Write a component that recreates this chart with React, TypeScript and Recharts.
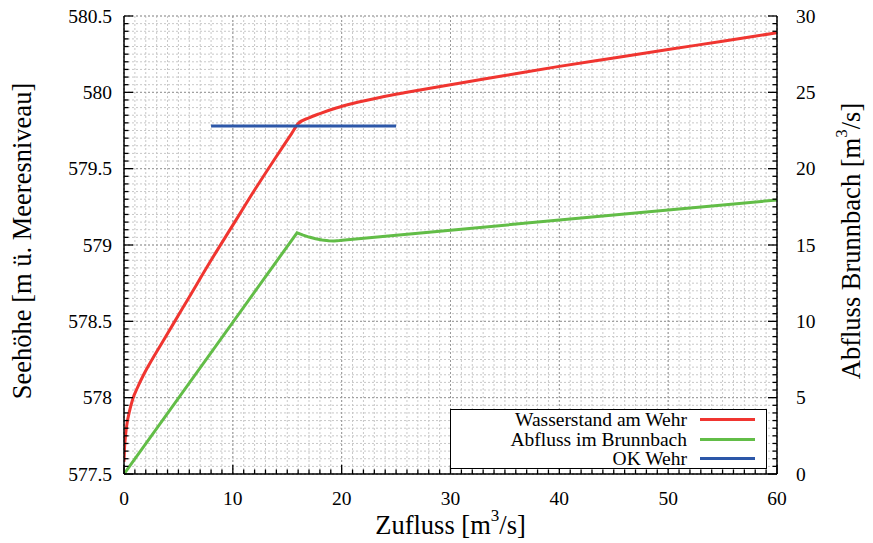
import React from 'react';
import { LineChart, Line, XAxis, YAxis, CartesianGrid, Legend } from 'recharts';

const FONT = '"Liberation Serif", "Times New Roman", Times, Tinos, "Nimbus Roman", "Nimbus Roman No9 L", "DejaVu Serif", "Noto Serif", FreeSerif, serif';

// Wasserstand am Wehr (left axis)
const zuflussRed = [0, 0.05, 0.15, 0.3, 0.5, 0.8, 1.2, 1.8, 2.5, 3.5, 4.5, 6, 8, 10, 12, 14, 15.4, 16.0, 17, 18, 19.5, 21.1, 23.5, 26, 30, 35, 40, 45, 50, 55, 60];
const wasserstand = [577.58, 577.67, 577.76, 577.84, 577.91, 577.99, 578.06, 578.15, 578.24, 578.36, 578.48, 578.66, 578.9, 579.13, 579.36, 579.58, 579.73, 579.795, 579.833, 579.861, 579.897, 579.928, 579.966, 580.0, 580.05, 580.11, 580.17, 580.225, 580.28, 580.335, 580.39];

// Abfluss im Brunnbach (right axis)
const zuflussGreen = [0, 15.9, 16.4, 17, 17.6, 18.2, 18.8, 19.3, 19.8, 30, 40, 50, 60];
const abfluss = [0, 15.8, 15.66, 15.52, 15.41, 15.33, 15.28, 15.265, 15.29, 15.97, 16.63, 17.29, 17.95];

// OK Wehr (left axis)
const zuflussOK = [8, 25];
const okWehr = [579.78, 579.78];

const seriesNames = ['Wasserstand am Wehr', 'Abfluss im Brunnbach', 'OK Wehr'];
const seriesColors = ['#f03530', '#62bd47', '#2c57a8'];

const xMajorValues = [0, 10, 20, 30, 40, 50, 60];
const xMajorLabels = ['0', '10', '20', '30', '40', '50', '60'];
const yLeftMajorValues = [577.5, 578, 578.5, 579, 579.5, 580, 580.5];
const yLeftMajorLabels = ['577.5', '578', '578.5', '579', '579.5', '580', '580.5'];
const yRightMajorValues = [0, 5, 10, 15, 20, 25, 30];
const yRightMajorLabels = ['0', '5', '10', '15', '20', '25', '30'];

const round = (v: number, d: number) => Math.round(v * 10 ** d) / 10 ** d;
const xMinorTicks = Array.from({ length: 61 }, (_, i) => i);
const yLeftMinorTicks = Array.from({ length: 61 }, (_, i) => round(577.5 + i * 0.05, 2));
const yRightMinorTicks = Array.from({ length: 61 }, (_, i) => round(i * 0.5, 1));

const redData = zuflussRed.map((x, i) => ({ x, y: wasserstand[i] }));
const greenData = zuflussGreen.map((x, i) => ({ x, y: abfluss[i] }));
const blueData = zuflussOK.map((x, i) => ({ x, y: okWehr[i] }));

const findIdx = (arr: number[], v: number) => arr.findIndex((a) => Math.abs(a - v) < 1e-6);

const TICK_FS = 19.5;
const TITLE_FS = 26.5;

const BottomTick = (props: any) => {
  const { x, y, payload } = props;
  const idx = findIdx(xMajorValues, payload.value);
  const major = idx >= 0;
  return (
    <g>
      <line x1={x} y1={y} x2={x} y2={y - (major ? 9 : 4.5)} stroke="#000" strokeWidth={1.3} />
      {major && (
        <text x={x} y={y + 24} textAnchor="middle" dominantBaseline="central" fontFamily={FONT} fontSize={TICK_FS} fill="#000">
          {xMajorLabels[idx]}
        </text>
      )}
    </g>
  );
};

const TopTick = (props: any) => {
  const { x, y, payload } = props;
  const major = findIdx(xMajorValues, payload.value) >= 0;
  return <line x1={x} y1={y} x2={x} y2={y + (major ? 9 : 4.5)} stroke="#000" strokeWidth={1.3} />;
};

const LeftTick = (props: any) => {
  const { x, y, payload } = props;
  const idx = findIdx(yLeftMajorValues, payload.value);
  const major = idx >= 0;
  return (
    <g>
      <line x1={x} y1={y} x2={x + (major ? 9 : 4.5)} y2={y} stroke="#000" strokeWidth={1.3} />
      {major && (
        <text x={x - 12} y={y} textAnchor="end" dominantBaseline="central" fontFamily={FONT} fontSize={TICK_FS} fill="#000">
          {yLeftMajorLabels[idx]}
        </text>
      )}
    </g>
  );
};

const RightTick = (props: any) => {
  const { x, y, payload } = props;
  const idx = findIdx(yRightMajorValues, payload.value);
  const major = idx >= 0;
  return (
    <g>
      <line x1={x} y1={y} x2={x - (major ? 9 : 4.5)} y2={y} stroke="#000" strokeWidth={1.3} />
      {major && (
        <text x={x + 19} y={y} textAnchor="start" dominantBaseline="central" fontFamily={FONT} fontSize={TICK_FS} fill="#000">
          {yRightMajorLabels[idx]}
        </text>
      )}
    </g>
  );
};

const XTitle = (props: any) => {
  const vb = props.viewBox;
  const cx = vb.x + vb.width / 2;
  const cy = vb.y + 51;
  return (
    <text x={cx} y={cy} textAnchor="middle" dominantBaseline="central" fontFamily={FONT} fontSize={TITLE_FS} fill="#000">
      Zufluss [m<tspan dy={-10} fontSize={17}>3</tspan><tspan dy={10}>/s]</tspan>
    </text>
  );
};

const LeftTitle = (props: any) => {
  const vb = props.viewBox;
  const cx = 22;
  const cy = vb.y + vb.height / 2 - 4;
  return (
    <text x={cx} y={cy} transform={`rotate(-90 ${cx} ${cy})`} textAnchor="middle" dominantBaseline="central" fontFamily={FONT} fontSize={TITLE_FS} fill="#000">
      Seehöhe [m ü. Meeresniveau]
    </text>
  );
};

const RightTitle = (props: any) => {
  const vb = props.viewBox;
  const cx = 851;
  const cy = vb.y + vb.height / 2 - 4;
  return (
    <text x={cx} y={cy} transform={`rotate(-90 ${cx} ${cy})`} textAnchor="middle" dominantBaseline="central" fontFamily={FONT} fontSize={TITLE_FS} fill="#000">
      Abfluss Brunnbach [m<tspan dy={-10} fontSize={17}>3</tspan><tspan dy={10}>/s]</tspan>
    </text>
  );
};

const LegendBox = (props: any) => {
  const payload: any[] = props.payload || [];
  return (
    <div
      style={{
        width: 317,
        height: 60,
        border: '1.5px solid #000',
        background: '#fff',
        boxSizing: 'border-box',
        paddingTop: 0,
        fontFamily: FONT,
        fontSize: TICK_FS,
        color: '#000',
      }}
    >
      {seriesNames.map((name, i) => {
        const p = payload.find((e) => e.value === name);
        const color = p ? p.color : seriesColors[i];
        return (
          <div key={name} style={{ display: 'flex', alignItems: 'center', justifyContent: 'flex-end', height: 19.5, lineHeight: '19.5px' }}>
            <span>{name}</span>
            <span style={{ display: 'inline-block', width: 55, height: 3, background: color, marginLeft: 13, marginRight: 11 }} />
          </div>
        );
      })}
    </div>
  );
};

export default function App() {
  return (
    <div style={{ position: 'absolute', left: 0, top: 0, width: 873, height: 543, background: '#fff' }}>
      <LineChart width={873} height={543} margin={{ top: 16, right: 0, bottom: 0, left: 0 }}>
        <CartesianGrid
          xAxisId={0}
          yAxisId="left"
          horizontalValues={yLeftMinorTicks}
          verticalValues={xMinorTicks}
          stroke="#c8c8c8"
          strokeDasharray="2 2"
          strokeWidth={1}
        />
        <CartesianGrid
          xAxisId={0}
          yAxisId="left"
          horizontalValues={yLeftMajorValues}
          verticalValues={xMajorValues}
          stroke="#999"
          strokeDasharray="2 2"
          strokeWidth={1}
        />
        <XAxis
          xAxisId={0}
          dataKey="x"
          type="number"
          domain={[0, 60]}
          ticks={xMinorTicks}
          interval={0}
          height={69}
          tickSize={0}
          tickMargin={0}
          tickLine={false}
          tick={<BottomTick />}
          axisLine={{ stroke: '#000', strokeWidth: 1.5 }}
          allowDataOverflow
          label={<XTitle />}
        />
        <XAxis
          xAxisId="top"
          orientation="top"
          dataKey="x"
          type="number"
          domain={[0, 60]}
          ticks={xMinorTicks}
          interval={0}
          height={0}
          tickSize={0}
          tickMargin={0}
          tickLine={false}
          tick={<TopTick />}
          axisLine={{ stroke: '#000', strokeWidth: 1.5 }}
          allowDataOverflow
        />
        <YAxis
          yAxisId="left"
          orientation="left"
          type="number"
          domain={[577.5, 580.5]}
          ticks={yLeftMinorTicks}
          interval={0}
          width={124}
          tickSize={0}
          tickMargin={0}
          tickLine={false}
          tick={<LeftTick />}
          axisLine={{ stroke: '#000', strokeWidth: 1.5 }}
          allowDataOverflow
          label={<LeftTitle />}
        />
        <YAxis
          yAxisId="right"
          orientation="right"
          type="number"
          domain={[0, 30]}
          ticks={yRightMinorTicks}
          interval={0}
          width={96}
          tickSize={0}
          tickMargin={0}
          tickLine={false}
          tick={<RightTick />}
          axisLine={{ stroke: '#000', strokeWidth: 1.5 }}
          allowDataOverflow
          label={<RightTitle />}
        />
        <Line
          data={redData}
          dataKey="y"
          name={seriesNames[0]}
          yAxisId="left"
          type="monotone"
          stroke={seriesColors[0]}
          strokeWidth={3}
          dot={false}
          isAnimationActive={false}
        />
        <Line
          data={greenData}
          dataKey="y"
          name={seriesNames[1]}
          yAxisId="right"
          type="linear"
          stroke={seriesColors[1]}
          strokeWidth={3}
          dot={false}
          isAnimationActive={false}
        />
        <Line
          data={blueData}
          dataKey="y"
          name={seriesNames[2]}
          yAxisId="left"
          type="linear"
          stroke={seriesColors[2]}
          strokeWidth={3}
          dot={false}
          isAnimationActive={false}
        />
        <Legend
          layout="vertical"
          align="center"
          verticalAlign="middle"
          content={<LegendBox />}
          wrapperStyle={{ position: 'absolute', left: 450, top: 409, width: 317, height: 60 }}
        />
      </LineChart>
    </div>
  );
}
